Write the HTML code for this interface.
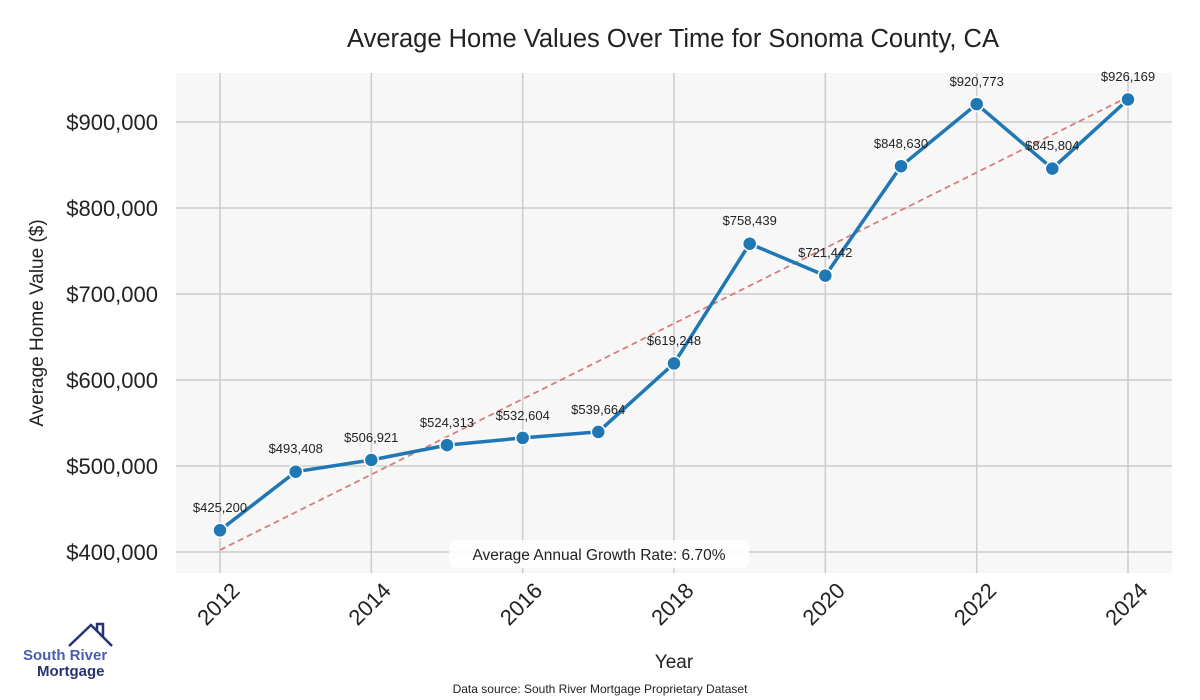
<!DOCTYPE html>
<html><head><meta charset="utf-8"><style>
body{margin:0;background:#fff;}
svg{display:block;font-family:"Liberation Sans",sans-serif;}
</style></head><body>
<svg width="1200" height="700" viewBox="0 0 1200 700">
<rect width="1200" height="700" fill="#fff"/>
<rect x="176" y="73" width="996" height="500" fill="#f7f7f7"/>
<g stroke="#cccccc" stroke-width="1.5">
<line x1="220" y1="73" x2="220" y2="573"/><line x1="371.3" y1="73" x2="371.3" y2="573"/>
<line x1="522.7" y1="73" x2="522.7" y2="573"/><line x1="674" y1="73" x2="674" y2="573"/>
<line x1="825.3" y1="73" x2="825.3" y2="573"/><line x1="976.7" y1="73" x2="976.7" y2="573"/>
<line x1="1128" y1="73" x2="1128" y2="573"/>
<line x1="176" y1="122" x2="1172" y2="122"/><line x1="176" y1="208" x2="1172" y2="208"/>
<line x1="176" y1="294" x2="1172" y2="294"/><line x1="176" y1="380" x2="1172" y2="380"/>
<line x1="176" y1="466" x2="1172" y2="466"/><line x1="176" y1="552" x2="1172" y2="552"/>
</g>
<line x1="220" y1="550" x2="1128" y2="97" stroke="#d47f7f" stroke-width="1.8" stroke-dasharray="6,4"/>
<polyline fill="none" stroke="#1f77b4" stroke-width="3.5" stroke-linejoin="round" points="220,530.3 295.7,471.7 371.3,460 447,445.1 522.7,437.9 598.3,431.9 674,363.4 749.7,243.7 825.3,275.6 901,166.2 976.7,104.1 1052.3,168.6 1128,99.5"/>
<g fill="#1f77b4" stroke="#fff" stroke-width="1.5">
<circle cx="220" cy="530.3" r="7"/><circle cx="295.7" cy="471.7" r="7"/><circle cx="371.3" cy="460" r="7"/>
<circle cx="447" cy="445.1" r="7"/><circle cx="522.7" cy="437.9" r="7"/><circle cx="598.3" cy="431.9" r="7"/>
<circle cx="674" cy="363.4" r="7"/><circle cx="749.7" cy="243.7" r="7"/><circle cx="825.3" cy="275.6" r="7"/>
<circle cx="901" cy="166.2" r="7"/><circle cx="976.7" cy="104.1" r="7"/><circle cx="1052.3" cy="168.6" r="7"/>
<circle cx="1128" cy="99.5" r="7"/>
</g>
<g font-size="13" fill="#222" text-anchor="middle">
<text x="220" y="512">$425,200</text><text x="295.7" y="453">$493,408</text><text x="371.3" y="442">$506,921</text>
<text x="447" y="427">$524,313</text><text x="522.7" y="420">$532,604</text><text x="598.3" y="414">$539,664</text>
<text x="674" y="345">$619,248</text><text x="749.7" y="225">$758,439</text><text x="825.3" y="257">$721,442</text>
<text x="901" y="148">$848,630</text><text x="976.7" y="86">$920,773</text><text x="1052.3" y="150">$845,804</text>
<text x="1128" y="81">$926,169</text>
</g>
<g font-size="22" fill="#222" text-anchor="end">
<text x="158" y="130">$900,000</text><text x="158" y="216">$800,000</text><text x="158" y="302">$700,000</text>
<text x="158" y="388">$600,000</text><text x="158" y="474">$500,000</text><text x="158" y="560">$400,000</text>
</g>
<g font-size="22" fill="#222" text-anchor="end">
<text transform="translate(241,592) rotate(-45)">2012</text><text transform="translate(392.3,592) rotate(-45)">2014</text>
<text transform="translate(543.7,592) rotate(-45)">2016</text><text transform="translate(695,592) rotate(-45)">2018</text>
<text transform="translate(846.3,592) rotate(-45)">2020</text><text transform="translate(997.7,592) rotate(-45)">2022</text>
<text transform="translate(1149,592) rotate(-45)">2024</text>
</g>
<rect x="449" y="540" width="300" height="28" rx="6" fill="#fff" opacity="0.85"/>
<text x="599" y="560" font-size="15.5" fill="#222" text-anchor="middle">Average Annual Growth Rate: 6.70%</text>
<text x="673" y="47" font-size="25.5" fill="#222" text-anchor="middle">Average Home Values Over Time for Sonoma County, CA</text>
<text x="674" y="668" font-size="19" fill="#222" text-anchor="middle">Year</text>
<text transform="translate(43,323) rotate(-90)" font-size="19" fill="#222" text-anchor="middle">Average Home Value ($)</text>
<text x="600" y="693" font-size="12" fill="#222" text-anchor="middle">Data source: South River Mortgage Proprietary Dataset</text>
<polyline points="69,646 91,625 112,646" fill="none" stroke="#283371" stroke-width="2.5"/>
<polyline points="97,631 97,624 103,624 103,637" fill="none" stroke="#283371" stroke-width="2.5"/>
<text x="23" y="660" font-size="15" font-weight="bold" fill="#4a5db0">South River</text>
<text x="37" y="676" font-size="15" font-weight="bold" fill="#283371">Mortgage</text>
</svg>
</body></html>
